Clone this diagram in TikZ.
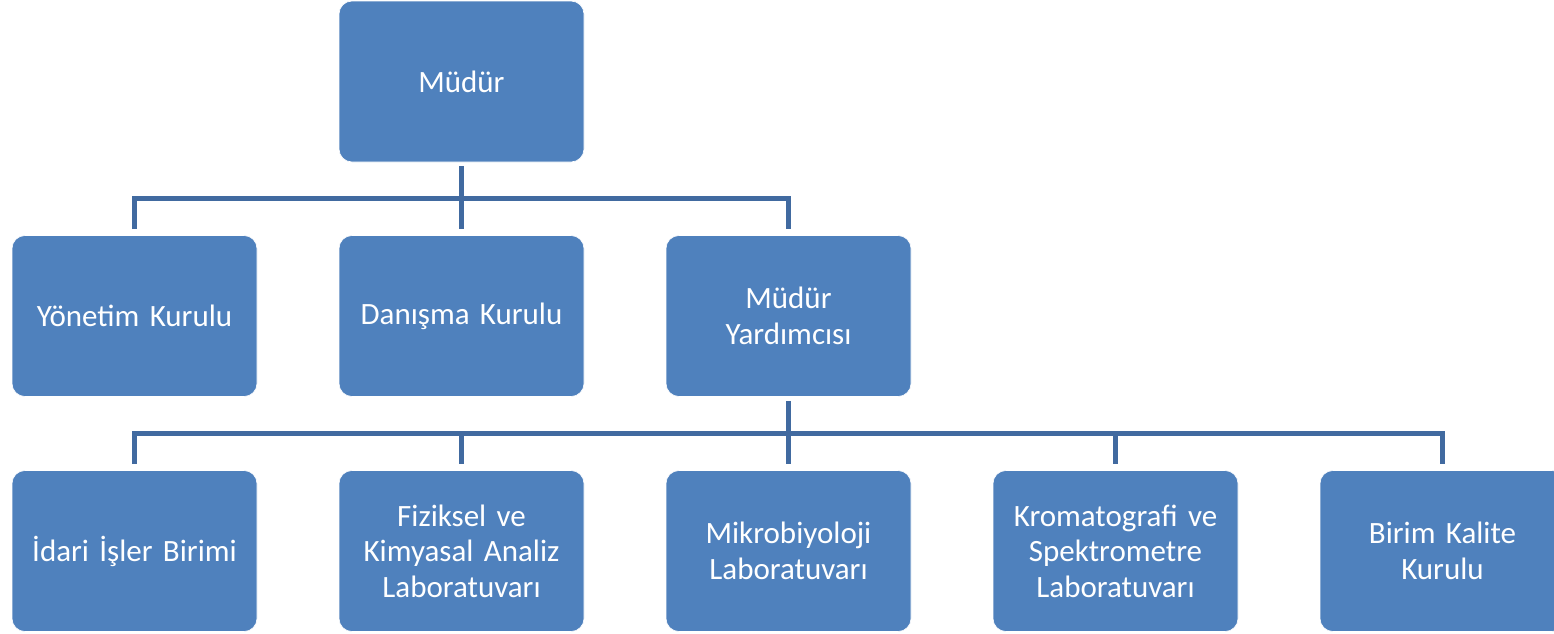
\documentclass[tikz,border=0pt]{standalone}
\usepackage{fontspec}
\setmainfont{Carlito}
\definecolor{boxblue}{RGB}{79,129,189}
\definecolor{lineblue}{RGB}{65,106,160}
\tikzset{
  orgbox/.style={draw=white, line width=0.6pt, fill=boxblue, rounded corners=13pt,
    minimum width=245pt, minimum height=161pt, inner sep=0pt, text width=225pt,
    align=center, text=white, font=\fontsize{31}{35.5}\selectfont},
  conn/.style={draw=lineblue, line width=5pt, line join=miter}
}
\begin{document}
\begin{tikzpicture}[x=1pt,y=-1pt]
\useasboundingbox (0,0) rectangle (1554,633);
\clip (0,0) rectangle (1554,633);
\node[orgbox] (m) at (461.5,81.5) {Müdür};
\node[orgbox] (yk) at (134.5,316) {Yönetim Kurulu};
\node[orgbox] (dk) at (461.5,316) {Danışma Kurulu};
\node[orgbox] (my) at (788.5,316) {Müdür\\Yardımcısı};
\node[orgbox] (ib) at (134.5,551) {İdari İşler Birimi};
\node[orgbox] (fk) at (461.5,551) {Fiziksel ve\\Kimyasal Analiz\\Laboratuvarı};
\node[orgbox] (mb) at (788.5,551) {Mikrobiyoloji\\Laboratuvarı};
\node[orgbox] (ks) at (1115.5,551) {Kromatografi ve\\Spektrometre\\Laboratuvarı};
\node[orgbox] (bk) at (1442.5,551) {Birim Kalite\\Kurulu};
\coordinate (b1) at (461.5,198);
\coordinate (b2) at (788.5,433.5);
% level 1
\draw[conn, shorten <=4pt] (m.south) -- (m.south |- b1);
\draw[conn, shorten <=6pt, shorten >=6pt] (yk.north) -- (yk.north |- b1) -- (my.north |- b1) -- (my.north);
\draw[conn, shorten >=6pt] (dk.north |- b1) -- (dk.north);
% level 2
\draw[conn, shorten <=4pt] (my.south) -- (my.south |- b2);
\draw[conn, shorten <=6pt, shorten >=6pt] (ib.north) -- (ib.north |- b2) -- (bk.north |- b2) -- (bk.north);
\draw[conn, shorten >=6pt] (fk.north |- b2) -- (fk.north);
\draw[conn, shorten >=6pt] (mb.north |- b2) -- (mb.north);
\draw[conn, shorten >=6pt] (ks.north |- b2) -- (ks.north);
\end{tikzpicture}
\end{document}
